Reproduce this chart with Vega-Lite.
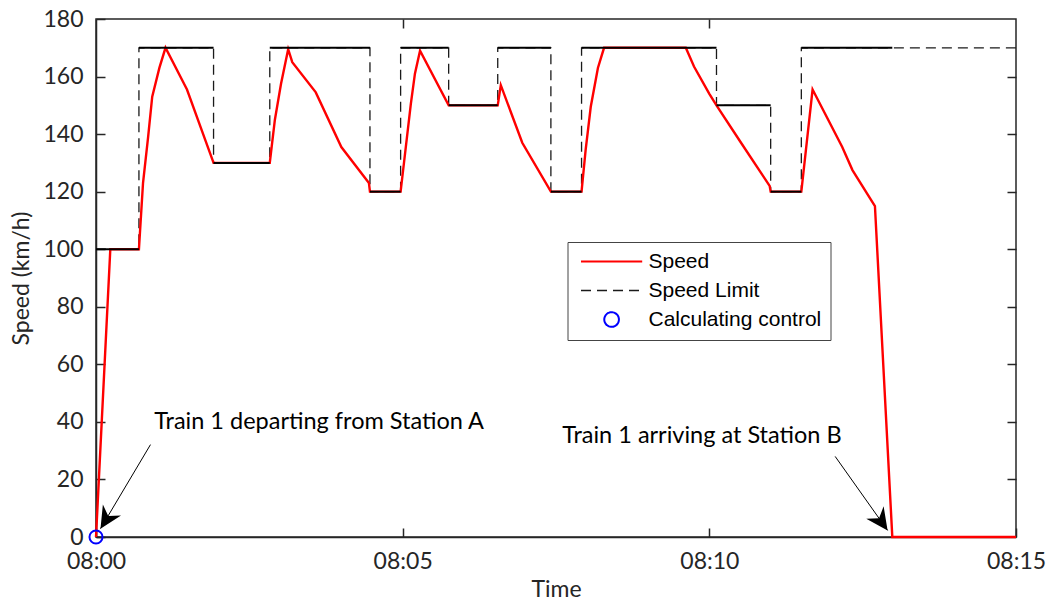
{
  "$schema": "https://vega.github.io/schema/vega-lite/v6.json",
  "width": 920,
  "height": 518,
  "autosize": "none",
  "padding": {"left": 96, "top": 19, "right": 34, "bottom": 63},
  "background": "white",
  "config": {
    "view": {"stroke": "#262626", "strokeWidth": 1.5},
    "axis": {
      "labelFont": "Lato", "labelFontSize": 23, "labelColor": "#262626",
      "titleFont": "Lato", "titleFontSize": 23, "titleColor": "#262626", "titleFontWeight": "normal",
      "domainColor": "#262626", "domainWidth": 1.5,
      "tickColor": "#262626", "tickWidth": 1.5, "tickSize": -9,
      "grid": false, "labelPadding": 22, "labelFlush": false, "labelOverlap": false
    },
    "legend": {
      "labelFont": "Liberation Sans", "labelFontSize": 21, "labelColor": "#000000", "labelLimit": 400
    }
  },
  "datasets": {
    "speed": [
      {"time": "2024-01-01T08:00:00Z", "speed": 0},
      {"time": "2024-01-01T08:00:14Z", "speed": 100},
      {"time": "2024-01-01T08:00:42Z", "speed": 100},
      {"time": "2024-01-01T08:00:46Z", "speed": 123},
      {"time": "2024-01-01T08:00:51Z", "speed": 139},
      {"time": "2024-01-01T08:00:55Z", "speed": 153},
      {"time": "2024-01-01T08:01:02Z", "speed": 163},
      {"time": "2024-01-01T08:01:08Z", "speed": 170},
      {"time": "2024-01-01T08:01:29Z", "speed": 155.5},
      {"time": "2024-01-01T08:01:55Z", "speed": 130},
      {"time": "2024-01-01T08:02:50Z", "speed": 130},
      {"time": "2024-01-01T08:02:55Z", "speed": 145},
      {"time": "2024-01-01T08:03:01Z", "speed": 157.5},
      {"time": "2024-01-01T08:03:08Z", "speed": 169.5},
      {"time": "2024-01-01T08:03:12Z", "speed": 165},
      {"time": "2024-01-01T08:03:35Z", "speed": 154.5},
      {"time": "2024-01-01T08:04:00Z", "speed": 135.5},
      {"time": "2024-01-01T08:04:27Z", "speed": 123},
      {"time": "2024-01-01T08:04:28Z", "speed": 120},
      {"time": "2024-01-01T08:04:58Z", "speed": 120},
      {"time": "2024-01-01T08:05:08Z", "speed": 150.5},
      {"time": "2024-01-01T08:05:12Z", "speed": 161},
      {"time": "2024-01-01T08:05:17Z", "speed": 169},
      {"time": "2024-01-01T08:05:45Z", "speed": 150},
      {"time": "2024-01-01T08:06:33Z", "speed": 150},
      {"time": "2024-01-01T08:06:36Z", "speed": 157},
      {"time": "2024-01-01T08:06:57Z", "speed": 137},
      {"time": "2024-01-01T08:07:25Z", "speed": 120},
      {"time": "2024-01-01T08:07:55Z", "speed": 120},
      {"time": "2024-01-01T08:07:59Z", "speed": 134.5},
      {"time": "2024-01-01T08:08:04Z", "speed": 149.5},
      {"time": "2024-01-01T08:08:11Z", "speed": 163},
      {"time": "2024-01-01T08:08:17Z", "speed": 170},
      {"time": "2024-01-01T08:09:37Z", "speed": 170},
      {"time": "2024-01-01T08:09:45Z", "speed": 163.5},
      {"time": "2024-01-01T08:10:00Z", "speed": 154},
      {"time": "2024-01-01T08:10:07Z", "speed": 150},
      {"time": "2024-01-01T08:10:31Z", "speed": 137},
      {"time": "2024-01-01T08:10:59Z", "speed": 122},
      {"time": "2024-01-01T08:11:00Z", "speed": 120},
      {"time": "2024-01-01T08:11:30Z", "speed": 120},
      {"time": "2024-01-01T08:11:41Z", "speed": 155.5},
      {"time": "2024-01-01T08:12:10Z", "speed": 135.5},
      {"time": "2024-01-01T08:12:20Z", "speed": 127.5},
      {"time": "2024-01-01T08:12:42Z", "speed": 115},
      {"time": "2024-01-01T08:12:59Z", "speed": 0},
      {"time": "2024-01-01T08:15:00Z", "speed": 0}
    ],
    "limit": [
      {"start": "2024-01-01T08:00:00Z", "end": "2024-01-01T08:00:42Z", "limit": 100},
      {"start": "2024-01-01T08:00:42Z", "end": "2024-01-01T08:01:55Z", "limit": 170},
      {"start": "2024-01-01T08:01:55Z", "end": "2024-01-01T08:02:50Z", "limit": 130},
      {"start": "2024-01-01T08:02:50Z", "end": "2024-01-01T08:04:28Z", "limit": 170},
      {"start": "2024-01-01T08:04:28Z", "end": "2024-01-01T08:04:58Z", "limit": 120},
      {"start": "2024-01-01T08:04:58Z", "end": "2024-01-01T08:05:45Z", "limit": 170},
      {"start": "2024-01-01T08:05:45Z", "end": "2024-01-01T08:06:33Z", "limit": 150},
      {"start": "2024-01-01T08:06:33Z", "end": "2024-01-01T08:07:25Z", "limit": 170},
      {"start": "2024-01-01T08:07:25Z", "end": "2024-01-01T08:07:55Z", "limit": 120},
      {"start": "2024-01-01T08:07:55Z", "end": "2024-01-01T08:10:07Z", "limit": 170},
      {"start": "2024-01-01T08:10:07Z", "end": "2024-01-01T08:11:00Z", "limit": 150},
      {"start": "2024-01-01T08:11:00Z", "end": "2024-01-01T08:11:30Z", "limit": 120},
      {"start": "2024-01-01T08:11:30Z", "end": "2024-01-01T08:12:59Z", "limit": 170},
      {"start": "2024-01-01T08:15:00Z", "end": null, "limit": 170}
    ],
    "control": [
      {"time": "2024-01-01T08:00:00Z", "speed": 0}
    ],
    "notes": [
      {"label": "Train 1 departing from Station A",
       "text_time": "2024-01-01T08:00:57Z", "text_speed": 37.6,
       "tail_time": "2024-01-01T08:00:53.300Z", "tail_speed": 32.1,
       "tip_time": "2024-01-01T08:00:04.400Z", "tip_speed": 2.9},
      {"label": "Train 1 arriving at Station B",
       "text_time": "2024-01-01T08:07:36Z", "text_speed": 32.6,
       "tail_time": "2024-01-01T08:12:03.100Z", "tail_speed": 28.0,
       "tip_time": "2024-01-01T08:12:54.400Z", "tip_speed": 2.3}
    ]
  },
  "resolve": {"axis": {"x": "independent", "y": "independent"}},
  "layer": [
    {
      "data": {"name": "limit"},
      "mark": {"type": "line", "interpolate": "step-after", "strokeDash": [10, 6], "strokeWidth": 1.3, "clip": false},
      "encoding": {
        "x": {
          "field": "start", "type": "temporal", "title": "Time",
          "scale": {"type": "utc", "domain": [
            {"year": 2024, "month": 1, "date": 1, "hours": 8, "minutes": 0, "utc": true},
            {"year": 2024, "month": 1, "date": 1, "hours": 8, "minutes": 15, "utc": true}]},
          "axis": {
            "orient": "bottom", "format": "%H:%M", "titlePadding": 5,
            "values": [
              {"year": 2024, "month": 1, "date": 1, "hours": 8, "minutes": 0, "utc": true},
              {"year": 2024, "month": 1, "date": 1, "hours": 8, "minutes": 5, "utc": true},
              {"year": 2024, "month": 1, "date": 1, "hours": 8, "minutes": 10, "utc": true},
              {"year": 2024, "month": 1, "date": 1, "hours": 8, "minutes": 15, "utc": true}]
          }
        },
        "y": {
          "field": "limit", "type": "quantitative", "title": "Speed (km/h)",
          "scale": {"domain": [0, 180], "nice": false},
          "axis": {"orient": "left", "values": [0, 20, 40, 60, 80, 100, 120, 140, 160, 180], "titlePadding": 9}
        },
        "color": {
          "datum": "Speed Limit",
          "scale": {"domain": ["Speed", "Speed Limit", "Calculating control"], "range": ["#ff0000", "#1a1a1a", "#0000ff"]},
          "legend": {
            "title": null, "orient": "none", "legendX": 471.5, "legendY": 223,
            "direction": "vertical",
            "symbolSize": 144, "symbolType": "stroke", "labelOffset": 51,
            "padding": 9, "rowPadding": 7, "labelLimit": 400,
            "strokeColor": "#444444", "fillColor": "#ffffff",
            "encode": {
              "symbols": {
                "update": {
                  "shape": {"signal": "datum.value === 'Calculating control' ? 'M2.88,0A1.22,1.22,0,1,1,5.32,0A1.22,1.22,0,1,1,2.88,0Z' : 'M-1,0H9.2'"},
                  "strokeDash": {"signal": "datum.value === 'Speed Limit' ? [10, 6] : [1, 0]"},
                  "strokeWidth": {"signal": "datum.value === 'Speed' ? 2.2 : (datum.value === 'Speed Limit' ? 1.3 : 2)"},
                  "fill": {"value": "transparent"},
                  "stroke": {"scale": "color", "field": "value"},
                  "opacity": {"value": 1}
                }
              }
            }
          }
        }
      }
    },
    {
      "data": {"name": "speed"},
      "mark": {"type": "line", "strokeWidth": 2.4, "clip": false},
      "encoding": {
        "x": {"field": "time", "type": "temporal", "axis": null},
        "y": {"field": "speed", "type": "quantitative", "axis": null},
        "color": {"datum": "Speed"}
      }
    },
    {
      "data": {"name": "limit"},
      "transform": [{"filter": "datum.end != null"}],
      "mark": {"type": "rule", "strokeWidth": 2, "color": "#000000"},
      "encoding": {
        "x": {"field": "start", "type": "temporal", "axis": null},
        "x2": {"field": "end"},
        "y": {"field": "limit", "type": "quantitative", "axis": null}
      }
    },
    {
      "data": {"name": "notes"},
      "mark": {"type": "rule", "strokeWidth": 1, "color": "#000000"},
      "encoding": {
        "x": {"field": "tail_time", "type": "temporal", "axis": null},
        "x2": {"field": "tip_time"},
        "y": {"field": "tail_speed", "type": "quantitative", "axis": null},
        "y2": {"field": "tip_speed"}
      }
    },
    {
      "data": {"name": "notes"},
      "mark": {"type": "point", "shape": "M0,0L-0.97,2L0,1.35L0.97,2Z", "filled": true, "color": "#000000", "size": 480, "opacity": 1, "strokeWidth": 0},
      "encoding": {
        "x": {"field": "tip_time", "type": "temporal", "axis": null},
        "y": {"field": "tip_speed", "type": "quantitative", "axis": null},
        "angle": {"condition": {"test": "datum.label === 'Train 1 arriving at Station B'", "value": 144.7}, "value": 211.5}
      }
    },
    {
      "data": {"name": "notes"},
      "mark": {"type": "text", "align": "left", "baseline": "alphabetic", "font": "Lato", "fontSize": 23.5, "color": "#000000"},
      "encoding": {
        "x": {"field": "text_time", "type": "temporal", "axis": null},
        "y": {"field": "text_speed", "type": "quantitative", "axis": null},
        "text": {"field": "label"}
      }
    },
    {
      "data": {"name": "control"},
      "mark": {"type": "point", "shape": "circle", "filled": false, "size": 170, "strokeWidth": 2, "opacity": 1, "clip": false},
      "encoding": {
        "x": {
          "field": "time", "type": "temporal",
          "axis": {
            "orient": "top", "labels": false, "title": null, "domain": false,
            "values": [
              {"year": 2024, "month": 1, "date": 1, "hours": 8, "minutes": 5, "utc": true},
              {"year": 2024, "month": 1, "date": 1, "hours": 8, "minutes": 10, "utc": true}]
          }
        },
        "y": {
          "field": "speed", "type": "quantitative",
          "axis": {"orient": "right", "labels": false, "title": null, "domain": false, "values": [20, 40, 60, 80, 100, 120, 140, 160]}
        },
        "color": {"datum": "Calculating control"}
      }
    }
  ]
}
